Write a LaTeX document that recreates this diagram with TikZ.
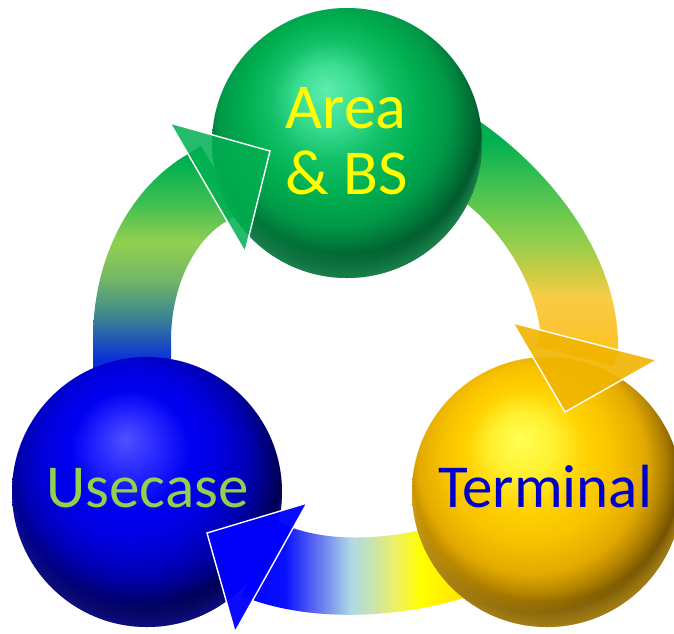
\documentclass[tikz,border=0pt]{standalone}
\usepackage{fontspec}
\setmainfont{Carlito}
% sphere colours
\definecolor{ga0}{HTML}{5EEDAE}\definecolor{ga1}{HTML}{3ADC92}\definecolor{ga2}{HTML}{12C068}
\definecolor{ga3}{HTML}{00B050}\definecolor{ga4}{HTML}{009A48}\definecolor{ga5}{HTML}{007A3A}
\definecolor{ga6}{HTML}{00562A}\definecolor{ga7}{HTML}{00401F}
\definecolor{ba0}{HTML}{5050FF}\definecolor{ba1}{HTML}{2424FF}\definecolor{ba2}{HTML}{0000F2}
\definecolor{ba3}{HTML}{0000E0}\definecolor{ba4}{HTML}{0000B4}\definecolor{ba5}{HTML}{000084}
\definecolor{ba6}{HTML}{000048}\definecolor{ba7}{HTML}{000030}
\definecolor{ya0}{HTML}{FFFF55}\definecolor{ya1}{HTML}{FFF030}\definecolor{ya2}{HTML}{FFD200}
\definecolor{ya3}{HTML}{F8C200}\definecolor{ya4}{HTML}{E2AA00}\definecolor{ya5}{HTML}{B48400}
\definecolor{ya6}{HTML}{735300}\definecolor{ya7}{HTML}{504000}
\pgfdeclareradialshading{greenball}{\pgfpoint{-4bp}{10bp}}{color(0bp)=(ga0); color(6bp)=(ga1); color(11bp)=(ga2); color(16bp)=(ga3); color(21bp)=(ga4); color(24bp)=(ga5); color(27bp)=(ga6); color(50bp)=(ga7)}
\pgfdeclareradialshading{blueball}{\pgfpoint{-4bp}{10bp}}{color(0bp)=(ba0); color(6bp)=(ba1); color(11bp)=(ba2); color(16bp)=(ba3); color(21bp)=(ba4); color(24bp)=(ba5); color(27bp)=(ba6); color(50bp)=(ba7)}
\pgfdeclareradialshading{yellowball}{\pgfpoint{-5bp}{10bp}}{color(0bp)=(ya0); color(6bp)=(ya1); color(11bp)=(ya2); color(16bp)=(ya3); color(21bp)=(ya4); color(24bp)=(ya5); color(27bp)=(ya6); color(50bp)=(ya7)}
% band colours
\definecolor{l0}{HTML}{0018E8}\definecolor{l1}{HTML}{0A30D8}\definecolor{l2}{HTML}{3F8A8C}
\definecolor{l3}{HTML}{75B866}\definecolor{l4}{HTML}{92D050}\definecolor{l5}{HTML}{3CBE52}
\definecolor{l6}{HTML}{00B050}
\pgfdeclareverticalshading{leftband}{100bp}{color(0bp)=(l0); color(25bp)=(l0); color(33bp)=(l1); color(42bp)=(l2); color(49bp)=(l3); color(56bp)=(l4); color(64bp)=(l5); color(72bp)=(l6); color(100bp)=(l6)}
\definecolor{r0}{HTML}{FFC000}\definecolor{r1}{HTML}{FCC535}\definecolor{r2}{HTML}{F8CC45}
\definecolor{r3}{HTML}{C8CC44}\definecolor{r4}{HTML}{9CCF4C}\definecolor{r5}{HTML}{7CCC4E}
\definecolor{r6}{HTML}{3ABF50}\definecolor{r7}{HTML}{00B050}
\pgfdeclareverticalshading{rightband}{100bp}{color(0bp)=(r0); color(25bp)=(r0); color(31.7bp)=(r1); color(37.7bp)=(r2); color(42.6bp)=(r3); color(46.8bp)=(r4); color(51bp)=(r5); color(59.5bp)=(r6); color(66.8bp)=(r7); color(100bp)=(r7)}
\definecolor{b0}{HTML}{0000FF}\definecolor{b1}{HTML}{0A10FF}\definecolor{b2}{HTML}{6878F0}
\definecolor{b3}{HTML}{ADD8E6}\definecolor{b4}{HTML}{C8E4B0}\definecolor{b5}{HTML}{F0F060}
\definecolor{b6}{HTML}{FFFF00}\definecolor{b7}{HTML}{FFE000}\definecolor{b8}{HTML}{FFC800}
\pgfdeclarehorizontalshading{bottomband}{100bp}{color(0bp)=(b0); color(25bp)=(b0); color(33.3bp)=(b1); color(40.1bp)=(b2); color(45.9bp)=(b3); color(50.2bp)=(b4); color(55bp)=(b5); color(59.5bp)=(b6); color(69.2bp)=(b7); color(75bp)=(b8); color(100bp)=(b8)}
% others
\definecolor{headG}{HTML}{00B050}
\definecolor{headY}{HTML}{F0B400}
\definecolor{headB}{HTML}{0000FF}
\definecolor{txtY}{HTML}{FFFF00}
\definecolor{txtG}{HTML}{92D050}
\definecolor{txtB}{HTML}{0000CC}
\definecolor{rimG}{HTML}{4CD08C}
\definecolor{rimB}{HTML}{3030E0}
\definecolor{rimY}{HTML}{FFD040}
\begin{document}
\begin{tikzpicture}[x=1pt,y=-1pt,
  sphere/.style={circle, minimum size=270pt, inner sep=0pt, shade},
  headstyle/.style={draw=white, line width=1.4pt, line join=miter},
  label/.style={inner sep=0pt, anchor=base}]
\fill[white] (0,0) rectangle (674,633);
\useasboundingbox (0,0) rectangle (674,633);
% bands (tails go under the spheres)
\shade[shading=leftband] (93,400) -- (93,340) .. controls (93,250) and (136,184) .. (188,154) -- (201,146) -- (240,213) -- (227,221) .. controls (192,241) and (171,290) .. (171,340) -- (171,400) -- cycle;
\shade[shading=rightband] (440,95) -- (482,123) .. controls (555,175) and (620,260) .. (618,350) -- (614,366) -- (536,346) -- (540,330) .. controls (535,285) and (505,235) .. (468,205) -- (440,180) -- cycle;
\shade[shading=bottomband] (470,515) -- (440,525) .. controls (390,540) and (320,545) .. (275,520) -- (242,596) .. controls (320,628) and (430,615) .. (490,588) -- (500,570) -- cycle;
% spheres
\node[sphere, shading=greenball] (area) at (347,143) {};
\node[sphere, shading=blueball] (use) at (147,492) {};
\node[sphere, shading=yellowball] (term) at (547,492) {};
% soft lighter rim at the bottom of each sphere
\foreach \s/\c in {area/rimG, use/rimB, term/rimY}{
  \begin{scope}
    \clip (\s.center) circle[radius=135pt];
    \foreach \d in {2,4,...,24}{
      \fill[\c, opacity=0.04, even odd rule] (\s.center) circle[radius=135pt] ([yshift=\d pt]\s.center) circle[radius=135pt];
    }
  \end{scope}
}
% arrow heads (over the spheres)
\coordinate (hG1) at (170,123); \coordinate (hG2) at (270,151); \coordinate (hG3) at (245,252);
\coordinate (hY1) at (513,323); \coordinate (hY2) at (657,360); \coordinate (hY3) at (565,412);
\coordinate (hB1) at (307,503); \coordinate (hB2) at (207,533); \coordinate (hB3) at (235,632);
\fill[headG, fill opacity=0.85] (hG1) -- (hG2) -- (hG3) -- cycle;
\draw[headstyle] (hG1) -- (hG2) -- (hG3) -- cycle;
\fill[headY, fill opacity=0.9] (hY1) -- (hY2) -- (hY3) -- cycle;
\draw[headstyle] (hY1) -- (hY2) -- (hY3) -- cycle;
\fill[headB, fill opacity=0.96] (hB1) -- (hB2) -- (hB3) -- cycle;
\draw[headstyle] (hB1) -- (hB2) -- (hB3) -- cycle;
% texts
\node[label, text=txtY, font=\fontsize{64}{64}\selectfont] (t1) at (346,128) {Area};
\node[label, text=txtY, font=\fontsize{64}{64}\selectfont] (t2) at (347,194) {\& BS};
\node[label, text=txtG, font=\fontsize{61}{61}\selectfont] (t3) at (147.5,507) {Usecase};
\node[label, text=txtB, font=\fontsize{61}{61}\selectfont] (t4) at (545,507) {Terminal};
\end{tikzpicture}
\end{document}
